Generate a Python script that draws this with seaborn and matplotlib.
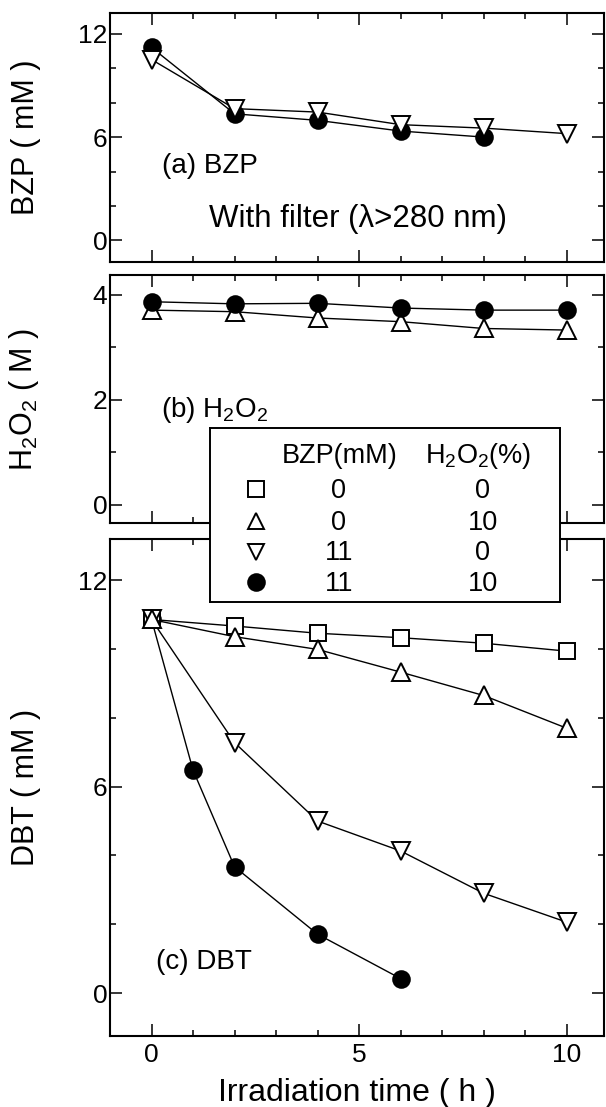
import numpy as np
import pandas as pd
import matplotlib
matplotlib.use("Agg")
import matplotlib.pyplot as plt
from matplotlib.ticker import FixedLocator
import seaborn as sns

# ---------------- data ----------------
time = [0, 2, 4, 6, 8, 10]
time_a_circ = [0, 2, 4, 6, 8]
time_c_circ = [0, 1, 2, 4, 6]

# (a) BZP (mM)
bzp_11_0 = [10.5, 7.65, 7.45, 6.72, 6.52, 6.2]     # BZP 11 mM, H2O2 0 %
bzp_11_10 = [11.2, 7.35, 6.97, 6.35, 6.0]         # BZP 11 mM, H2O2 10 %

# (b) H2O2 (M)
h2o2_0_10 = [3.71, 3.68, 3.56, 3.49, 3.36, 3.33]   # BZP 0, H2O2 10 %
h2o2_11_10 = [3.87, 3.83, 3.84, 3.75, 3.71, 3.71]  # BZP 11, H2O2 10 %

# (c) DBT (mM)
dbt_0_0 = [10.86, 10.67, 10.46, 10.33, 10.17, 9.94]
dbt_0_10 = [10.86, 10.36, 9.99, 9.33, 8.65, 7.70]
dbt_11_0 = [10.86, 7.28, 5.00, 4.13, 2.90, 2.06]
dbt_11_10 = [10.86, 6.48, 3.67, 1.71, 0.42]

legend_bzp = ["0", "0", "11", "11"]
legend_h2o2 = ["0", "10", "0", "10"]

# ---------------- style ----------------
sns.set_style("ticks")
plt.rcParams["font.family"] = ["Liberation Sans", "DejaVu Sans"]
plt.rcParams["mathtext.default"] = "regular"
for k in ("text.color", "axes.labelcolor", "xtick.color", "ytick.color", "axes.edgecolor"):
    plt.rcParams[k] = "black"

W, H = 606, 1107
fig = plt.figure(figsize=(W / 100, H / 100), dpi=100, facecolor="white")


def px_axes(left, top, right, bottom):
    return fig.add_axes([left / W, 1 - bottom / H, (right - left) / W, (bottom - top) / H])


MARK = {
    "sq": dict(marker="s", markersize=11, markerfacecolor="white"),
    "up": dict(marker="^", markersize=13, markerfacecolor="white"),
    "dn": dict(marker="v", markersize=13, markerfacecolor="white"),
    "ci": dict(marker="o", markersize=12, markerfacecolor="black"),
}


def draw(ax, x, y, kind, z):
    sns.lineplot(x=x, y=y, ax=ax, color="black", linewidth=1.0,
                 markeredgecolor="black", markeredgewidth=1.4,
                 zorder=z, legend=False, **MARK[kind])


def style_axes(ax, ymaj, ymin, ylim, bottom_labels=False):
    ax.set_xlim(-1.0, 10.9)
    ax.set_ylim(*ylim)
    ax.xaxis.set_major_locator(FixedLocator([0, 5, 10]))
    ax.xaxis.set_minor_locator(FixedLocator([1, 2, 3, 4, 6, 7, 8, 9]))
    ax.yaxis.set_major_locator(FixedLocator(ymaj))
    ax.yaxis.set_minor_locator(FixedLocator(ymin))
    ax.tick_params(which="both", direction="in", top=True, right=True,
                   width=1.1, colors="black", labelsize=19)
    ax.tick_params(which="major", length=8.5)
    ax.tick_params(which="minor", length=4.3)
    ax.tick_params(axis="y", pad=2)
    ax.tick_params(axis="x", pad=5, labelbottom=bottom_labels)
    for s in ax.spines.values():
        s.set_linewidth(1.5)
        s.set_color("black")
    ax.set_facecolor("white")
    ax.set_xlabel("")


# ---------------- panel (a) ----------------
axa = px_axes(110, 13, 604, 262)
draw(axa, time_a_circ, bzp_11_10, "ci", 3)
draw(axa, time, bzp_11_0, "dn", 4)
style_axes(axa, [0, 6, 12], [2, 4, 8, 10], (-1.25, 13.2))
axa.set_ylabel("BZP ( mM )", fontsize=22)
axa.text(0.25, 3.9, "(a) BZP", fontsize=20, va="baseline")
axa.text(1.39, 0.77, "With filter (\u03bb>280 nm)", fontsize=22.5, va="baseline")

# ---------------- panel (b) ----------------
axb = px_axes(110, 275, 604, 523)
draw(axb, time, h2o2_0_10, "up", 3)
draw(axb, time, h2o2_11_10, "ci", 4)
style_axes(axb, [0, 2, 4], [1, 3], (-0.35, 4.38))
axb.set_ylabel("H$_2$O$_2$ ( M )", fontsize=22)
axb.text(0.22, 1.68, "(b) H$_2$O$_2$", fontsize=20, va="baseline")

# ---------------- panel (c) ----------------
axc = px_axes(110, 539, 604, 1036)
draw(axc, time_c_circ, dbt_11_10, "ci", 2)
draw(axc, time, dbt_0_0, "sq", 3)
draw(axc, time, dbt_11_0, "dn", 4)
draw(axc, time, dbt_0_10, "up", 5)
style_axes(axc, [0, 6, 12], [2, 4, 8, 10], (-1.25, 13.2), bottom_labels=True)
axc.set_ylabel("DBT ( mM )", fontsize=22)
axc.set_xlabel("Irradiation time ( h )", fontsize=23, labelpad=8)
axc.text(0.1, 0.71, "(c) DBT", fontsize=20, va="baseline")

for ax in (axa, axb, axc):
    ax.yaxis.set_label_coords(-0.14, 0.5)

# ---------------- legend box ----------------
lax = px_axes(210, 428, 560, 602)
lax.set_xlim(210, 560)
lax.set_ylim(602, 428)
lax.set_xticks([])
lax.set_yticks([])
lax.set_facecolor("white")
for s in lax.spines.values():
    s.set_linewidth(1.4)
    s.set_color("black")
lax.text(340, 463, "BZP(mM)", ha="center", va="baseline", fontsize=19.5)
lax.text(478, 463, "H$_2$O$_2$(%)", ha="center", va="baseline", fontsize=19.5)
row_c = [489, 521, 551.5, 582]
leg_marks = [("s", 12, "white"), ("^", 11, "white"), ("v", 11, "white"), ("o", 12, "black")]
for yc, (m, ms, fc), b, h in zip(row_c, leg_marks, legend_bzp, legend_h2o2):
    lax.plot([256], [yc], linestyle="none", marker=m, markersize=ms,
             markerfacecolor=fc, markeredgecolor="black", markeredgewidth=1.4)
    lax.text(339, yc + 9, b, ha="center", va="baseline", fontsize=19.5)
    lax.text(483, yc + 9, h, ha="center", va="baseline", fontsize=19.5)

fig.savefig("out.png", dpi=100, facecolor="white")
